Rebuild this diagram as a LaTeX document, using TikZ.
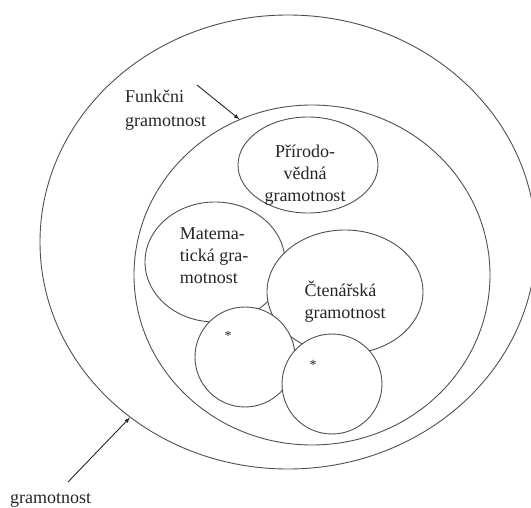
\documentclass[tikz,border=0pt]{standalone}
\usepackage{fontspec}
\setmainfont{Liberation Serif}
\usetikzlibrary{shapes.geometric, arrows, positioning}
\definecolor{linegray}{HTML}{505050}

\begin{document}
\begin{tikzpicture}[x=1pt, y=-1pt,
  ring/.style={ellipse, draw=linegray, line width=0.9pt, inner sep=0pt},
  lbl/.style={font=\fontsize{18}{22}\selectfont, inner sep=0pt, text=black!85},
  pointer/.style={-latex, draw=black!85, line width=0.9pt}]
\useasboundingbox (0,0) rectangle (531,508);

% Big rings
\node[ring, minimum width=496, minimum height=454] (outer) at (288,242) {};
\node[ring, minimum width=356, minimum height=340] (inner) at (312,275) {};

% Literacy areas
\node[ring, minimum width=140, minimum height=120, fill=white] (mat) at (215,262) {};
\node[ring, minimum width=156, minimum height=124, fill=white] (cte) at (345,292) {};
\node[ring, minimum width=140, minimum height=96, fill=white] (pri) at (308,165) {};
\node[ring, minimum width=100, minimum height=100, fill=white] (dot1) at (245,357) {};
\node[ring, minimum width=100, minimum height=100, fill=white] (dot2) at (332,384) {};

% Text in the areas
\node[lbl, align=center] (priText) at (305,175) {Přírodo-\\vědná\\gramotnost};
\node[lbl, align=left] (matText) at (214,256) {Matema-\\tická gra-\\motnost};
\node[lbl, align=left] (cteText) at (345,302) {Čtenářská\\gramotnost};
\node[lbl, font=\fontsize{14}{14}\selectfont] (star1) at (228,336) {*};
\node[lbl, font=\fontsize{14}{14}\selectfont] (star2) at (313,365) {*};

% Labels outside with arrows
\node[lbl, align=left, anchor=west, font=\fontsize{18}{24}\selectfont] (funText) at (125,110) {Funkčni\\gramotnost};
\node[lbl, anchor=base west] (graText) at (10,503) {gramotnost};
\coordinate (funTail) at (197,85);
\coordinate (graTail) at (68,482);
\draw[pointer] (funTail) -- (inner.115.4);
\draw[pointer] (graTail) -- (outer.228.4);
\end{tikzpicture}
\end{document}
